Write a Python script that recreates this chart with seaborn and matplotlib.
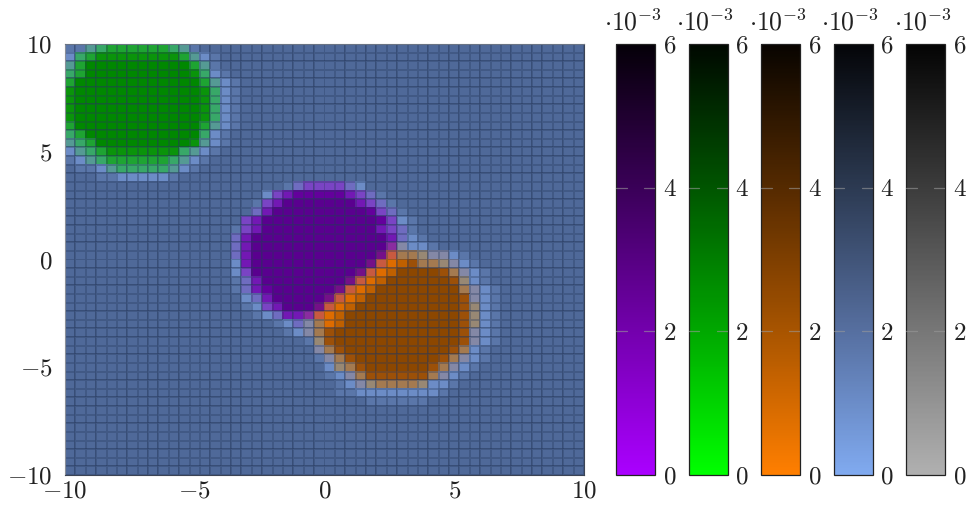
import numpy as np
import pandas as pd
import matplotlib
matplotlib.use("Agg")
import matplotlib.pyplot as plt
from matplotlib.cm import ScalarMappable
from matplotlib.colors import LinearSegmentedColormap, ListedColormap, Normalize
import seaborn as sns

sns.set_theme(style="white")
plt.rcParams["font.family"] = ["cmr10", "DejaVu Sans"]
plt.rcParams["mathtext.fontset"] = "cm"
plt.rcParams["axes.formatter.use_mathtext"] = True
plt.rcParams["axes.unicode_minus"] = False

N_CELLS = 50
AXIS_TICKS = [-10, -5, 0, 5, 10]
BAR_TICKS = [0, 2, 4, 6]
BAR_INNER_TICKS = [2, 4]

# Colour code of each cell
CELL_COLOURS = {
    ".": "#4f6999", "m": "#5a76a9", "l": "#6c8cc6",
    "P": "#5a008f", "Q": "#64009c", "R": "#7318b4", "V": "#7a44c4", "W": "#6f6cc0",
    "n": "#8a2ca0", "M": "#741088",
    "G": "#008800", "H": "#0a940a", "I": "#1ea432", "T": "#38a868", "U": "#559a94",
    "O": "#8c4700", "o": "#9c5008", "L": "#bf6000", "K": "#de6c00", "S": "#c85a40",
    "A": "#a47a50", "B": "#988874", "C": "#8488a6",
}

# (row from top, first column, cell codes)
GREEN_ROWS = [
    (0, 0, "mmUT" + "I" * 6 + "TUm"),
    (1, 0, "lTI" + "H" * 8 + "IUlm"),
    (2, 0, "UI" + "G" * 10 + "IUm"),
    (3, 0, "TI" + "G" * 10 + "HTlm"),
    (4, 0, "I" + "G" * 12 + "IUlm"),
    (5, 0, "H" + "G" * 12 + "HTlm"),
    (6, 0, "H" + "G" * 12 + "HTlm"),
    (7, 0, "H" + "G" * 12 + "HTlm"),
    (8, 0, "H" + "G" * 12 + "HTlm"),
    (9, 0, "I" + "G" * 12 + "IUlm"),
    (10, 0, "TI" + "G" * 11 + "Tlm"),
    (11, 0, "UTI" + "G" * 9 + "HUlm"),
    (12, 0, "lUTI" + "H" * 7 + "TUlm"),
    (13, 0, "mlUT" + "I" * 6 + "TUlm"),
    (14, 1, "mmlU" + "T" * 5 + "Ulm"),
    (15, 3, "mm" + "l" * 5 + "m"),
]

BLOB_ROWS = [
    (16, 21, "mWVVVVWl"),
    (17, 19, "lVR" + "Q" * 5 + "RVWm"),
    (18, 18, "mVR" + "P" * 7 + "RVWm"),
    (19, 18, "WR" + "P" * 9 + "QVWm"),
    (20, 17, "VR" + "P" * 11 + "QVlm"),
    (21, 16, "mVR" + "P" * 11 + "RVWm"),
    (22, 16, "WR" + "P" * 13 + "RWlm"),
    (23, 16, "WR" + "P" * 13 + "nCllm"),
    (24, 16, "WR" + "P" * 12 + "MSAABCClm"),
    (25, 16, "lR" + "P" * 11 + "MSKLoAABClm"),
    (26, 16, "lV" + "P" * 10 + "MSKL" + "O" * 4 + "oAClm"),
    (27, 16, "mWR" + "P" * 8 + "MSKL" + "O" * 6 + "oBlm"),
    (28, 16, "mWRQ" + "P" * 6 + "MSKL" + "O" * 8 + "AClm"),
    (29, 17, "lWR" + "P" * 5 + "MSKL" + "O" * 9 + "oClm"),
    (30, 17, "mlVR" + "P" * 3 + "MSKL" + "O" * 10 + "oBlm"),
    (31, 18, "mlWRRnSKL" + "O" * 11 + "oBlm"),
    (32, 20, "mlWCAKL" + "O" * 11 + "oBlm"),
    (33, 21, "mlCAo" + "O" * 12 + "oClm"),
    (34, 23, "mBo" + "O" * 12 + "oClm"),
    (35, 24, "CAo" + "O" * 10 + "oAlm"),
    (36, 24, "mCAo" + "O" * 8 + "oAClm"),
    (37, 25, "lBAo" + "O" * 6 + "oAClm"),
    (38, 25, "mlCA" + "o" * 6 + "AClm"),
    (39, 26, "mlCBAAAABllm"),
    (40, 26, "mm" + "l" * 8 + "m"),
    (41, 29, "m" * 6),
]

# Colour bar colours at value 0, 2, 4, 6
BAR_STOPS = [
    ["#aa00ff", "#7300ad", "#3a0058", "#050008"],
    ["#00ff00", "#00a800", "#005500", "#000800"],
    ["#ff7f00", "#a85400", "#552a00", "#080400"],
    ["#80aaf0", "#566fa0", "#2c3a52", "#040508"],
    ["#b0b0b0", "#777777", "#3c3c3c", "#040404"],
]
BAR_LEFT_PX = [616, 688.5, 761, 833.5, 906]
BAR_WIDTH_PX = 39
VMAX = 6e-3

codes = list(CELL_COLOURS)
grid = np.zeros((N_CELLS, N_CELLS), dtype=int)
for row, col, text in GREEN_ROWS + BLOB_ROWS:
    for k, ch in enumerate(text):
        grid[row, col + k] = codes.index(ch)

W, H = 969, 507
fig = plt.figure(figsize=(W / 100, H / 100), dpi=100)

# main heat map
ax = fig.add_axes([65 / W, (H - 475) / H, 519 / W, 431 / H])
frame = pd.DataFrame(grid)
sns.heatmap(frame, ax=ax, cmap=ListedColormap(list(CELL_COLOURS.values())),
            vmin=-0.5, vmax=len(codes) - 0.5, cbar=False, square=False,
            linewidths=0.7, linecolor=(0.15, 0.22, 0.36, 0.32),
            xticklabels=False, yticklabels=False)
mesh = ax.collections[0]
mesh.set_snap(False)
mesh.set_antialiased(True)
to_cell = lambda v: (v + 10) / 20 * N_CELLS
ax.set_xticks([to_cell(v) for v in AXIS_TICKS])
ax.set_xticklabels([f"${v}$" for v in AXIS_TICKS], fontsize=18, rotation=0, color="#222222")
ax.set_yticks([N_CELLS - to_cell(v) for v in AXIS_TICKS])
ax.set_yticklabels([f"${v}$" for v in AXIS_TICKS], fontsize=18, rotation=0, color="#222222")
ax.tick_params(length=0)
ax.tick_params(axis="x", pad=4)
ax.tick_params(axis="y", pad=9)
for s in ax.spines.values():
    s.set_visible(True)
    s.set_color("#3c4454")
    s.set_linewidth(0.8)
ax.spines["left"].set_color("#8a8f98")
ax.spines["top"].set_color("#6a7484")
ax.set_xlabel("")
ax.set_ylabel("")

# colour bars
for left, stops in zip(BAR_LEFT_PX, BAR_STOPS):
    cax = fig.add_axes([left / W, (H - 475) / H, BAR_WIDTH_PX / W, 431 / H])
    cmap = LinearSegmentedColormap.from_list("bar", stops, N=256)
    cb = fig.colorbar(ScalarMappable(Normalize(0, VMAX), cmap), cax=cax)
    cb.set_ticks([t * 1e-3 for t in BAR_TICKS])
    cb.set_ticklabels([f"${t}$" for t in BAR_TICKS], fontsize=18, color="#222222")
    cax.tick_params(axis="y", length=0, pad=5.5, right=True, left=False)
    trans = cax.get_yaxis_transform()
    for t in BAR_INNER_TICKS:
        cax.plot([0, 0.27], [t * 1e-3] * 2, transform=trans, color="#9a9a9a", alpha=0.6, lw=0.9, zorder=5)
        cax.plot([0.73, 1], [t * 1e-3] * 2, transform=trans, color="#9a9a9a", alpha=0.6, lw=0.9, zorder=5)
    cb.outline.set_edgecolor("#222222")
    cb.outline.set_linewidth(0.9)
    cax.text(-2.5 / BAR_WIDTH_PX + 0.5, 1.02, r"$\cdot 10^{-3}$", transform=cax.transAxes,
             fontsize=18.5, ha="center", va="bottom", color="#222222")

fig.savefig("out.png", dpi=100)
